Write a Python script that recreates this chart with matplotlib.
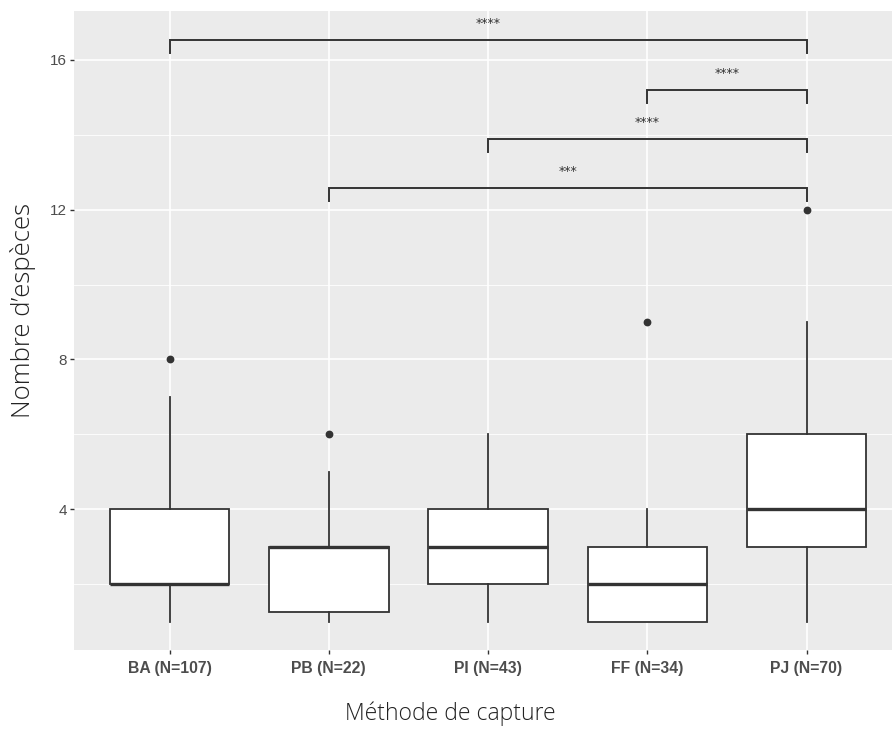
import matplotlib
matplotlib.use("Agg")
import matplotlib.pyplot as plt
from matplotlib.ticker import MultipleLocator

categories = ["BA (N=107)", "PB (N=22)", "PI (N=43)", "FF (N=34)", "PJ (N=70)"]
q1 = [2, 1.25, 2, 1, 3]
median = [2, 3, 3, 2, 4]
q3 = [4, 3, 4, 3, 6]
whisker_low = [1, 1, 1, 1, 1]
whisker_high = [7, 5, 6, 4, 9]
outliers = [[8], [6], [], [9], [12]]

# significance brackets: (group a, group b, bracket height, label)
bracket_from = [1, 4, 3, 2]
bracket_to = [5, 5, 5, 5]
bracket_y = [16.53, 15.2, 13.88, 12.57]
bracket_label = ["****", "****", "****", "***"]

W, H = 892, 729
fig = plt.figure(figsize=(W / 100, H / 100), dpi=100)
ax = fig.add_axes([74 / W, (729 - 650) / H, (W - 74) / W, (650 - 11) / H])
ax.set_facecolor("#EBEBEB")

stats = []
for i, c in enumerate(categories):
    stats.append(dict(label=c, q1=q1[i], med=median[i], q3=q3[i],
                      whislo=whisker_low[i], whishi=whisker_high[i],
                      fliers=outliers[i]))
pos = list(range(1, len(categories) + 1))
ax.bxp(stats, positions=pos, widths=0.75, patch_artist=True, showcaps=False,
       boxprops=dict(facecolor="white", edgecolor="#333333", linewidth=1.3),
       medianprops=dict(color="#333333", linewidth=2.4),
       whiskerprops=dict(color="#333333", linewidth=1.3),
       flierprops=dict(marker="o", markerfacecolor="#333333", markeredgecolor="#333333",
                       markersize=4.6, linestyle="none"), zorder=3)

drop = 0.35
for a, b, y, lab in zip(bracket_from, bracket_to, bracket_y, bracket_label):
    ax.plot([a, a, b, b], [y - drop, y, y, y - drop], color="#333333", lw=1.4,
            zorder=4, solid_joinstyle="miter")
    ax.text((a + b) / 2, y + 0.45, lab, ha="center", va="center", fontsize=9,
            color="#333333", zorder=4)

ax.set_xlim(0.4, 0.4 + (W - 74) / 159.25)
ax.set_ylim((659 - 650) / 37.44, (659 - 11) / 37.44)
ax.set_xticks(pos)
ax.set_xticklabels(categories)
ax.yaxis.set_major_locator(MultipleLocator(4))
ax.yaxis.set_minor_locator(MultipleLocator(2))
ax.grid(True, which="major", color="white", lw=1.2, zorder=0)
ax.grid(True, which="minor", axis="y", color="white", lw=0.6, zorder=0)
ax.set_axisbelow(True)
for s in ax.spines.values():
    s.set_visible(False)
ax.tick_params(axis="both", which="major", length=3, color="#333333", width=1,
               labelcolor="#4D4D4D")
ax.tick_params(axis="y", which="minor", length=0)
ax.tick_params(axis="x", pad=5)
ax.tick_params(axis="y", pad=2)
for t in ax.get_xticklabels():
    t.set_fontfamily("Liberation Sans")
    t.set_fontweight("bold")
    t.set_fontsize(11.3)
for t in ax.get_yticklabels():
    t.set_fontfamily("Liberation Sans")
    t.set_fontsize(11)

fig.text(450 / W, 1 - 714 / H, "Méthode de capture", ha="center", va="center",
         fontsize=16.5, family="Open Sans", fontweight="light", color="#222222")
fig.text(23 / W, 1 - 310 / H, "Nombre d’espèces", ha="center", va="center",
         rotation=90, fontsize=18.5, family="Open Sans", fontweight="light", color="#222222")

fig.savefig("out.png", dpi=100)
